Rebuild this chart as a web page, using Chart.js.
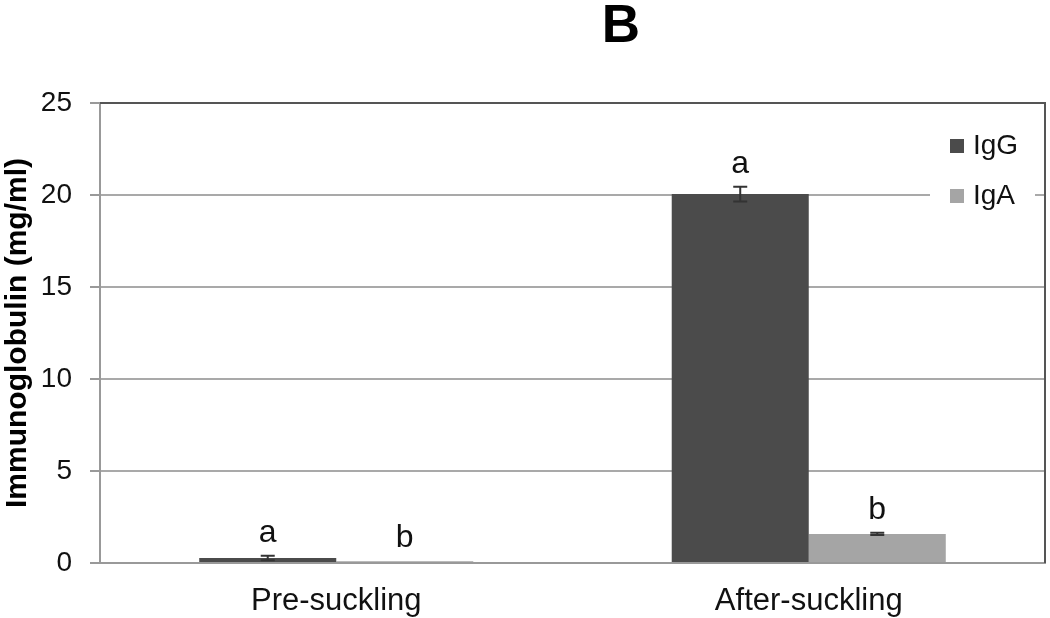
<!DOCTYPE html>
<html>
<head>
<meta charset="utf-8">
<script src="https://cdn.jsdelivr.net/npm/chart.js@4.4.0/dist/chart.umd.min.js"></script>
<style>
  html, body { margin: 0; padding: 0; background: #fff; }
  #wrap { width: 1050px; height: 618px; }
</style>
</head>
<body>
<div id="wrap"><canvas id="ig_chart" width="1050" height="618"></canvas></div>
<script>
// data
const categories = ['Pre-suckling', 'After-suckling'];
const series_names = ['IgG', 'IgA'];
const igg_values = [0.27, 20.05];
const iga_values = [0.1, 1.58];
const igg_errors = [0.12, 0.4];
const iga_errors = [0.0, 0.06];
const igg_letters = ['a', 'a'];
const iga_letters = ['b', 'b'];
const y_ticks = [0, 5, 10, 15, 20, 25];
const panel_title = 'B';

const FONT = "'Liberation Sans', Arial, sans-serif";

// error bars + significance letters
const error_plugin = {
    id: 'error_plugin',
    afterDatasetsDraw(chart) {
        const ctx = chart.ctx;
        const y = chart.scales.y;
        chart.data.datasets.forEach((ds, i) => {
            const meta = chart.getDatasetMeta(i);
            meta.data.forEach((bar, j) => {
                const v = ds.data[j];
                const e = ds.errors[j];
                const top = y.getPixelForValue(v + e);
                const bot = y.getPixelForValue(v - e);
                ctx.save();
                if (e > 0) {
                    ctx.strokeStyle = '#333';
                    ctx.lineWidth = 2;
                    ctx.beginPath();
                    ctx.moveTo(bar.x, top); ctx.lineTo(bar.x, bot);
                    ctx.moveTo(bar.x - 7, top); ctx.lineTo(bar.x + 7, top);
                    ctx.moveTo(bar.x - 7, bot); ctx.lineTo(bar.x + 7, bot);
                    ctx.stroke();
                }
                ctx.fillStyle = '#111';
                ctx.font = '32px ' + FONT;
                ctx.textAlign = 'center';
                ctx.textBaseline = 'alphabetic';
                ctx.fillText(ds.letters[j], bar.x, top - 14);
                ctx.restore();
            });
        });
    }
};

// plot border (dark top/right), legend box, panel letter
const frame_plugin = {
    id: 'frame_plugin',
    afterDraw(chart) {
        const ctx = chart.ctx;
        const a = chart.chartArea;
        ctx.save();
        ctx.strokeStyle = '#555';
        ctx.lineWidth = 2;
        ctx.beginPath();
        ctx.moveTo(a.left, a.top); ctx.lineTo(a.right, a.top); ctx.lineTo(a.right, a.bottom);
        ctx.stroke();

        // legend
        ctx.fillStyle = '#fff';
        ctx.fillRect(930, 122, 105, 96);
        ctx.font = '28px ' + FONT;
        ctx.textAlign = 'left';
        ctx.textBaseline = 'middle';
        chart.data.datasets.forEach((ds, i) => {
            const yy = 146 + i * 50;
            ctx.fillStyle = ds.backgroundColor;
            ctx.fillRect(950, yy - 7, 14, 14);
            ctx.fillStyle = '#111';
            ctx.fillText(ds.label, 973, yy);
        });

        // panel letter
        ctx.fillStyle = '#000';
        ctx.font = 'bold 53px ' + FONT;
        ctx.textAlign = 'center';
        ctx.textBaseline = 'alphabetic';
        ctx.fillText(panel_title, 621, 42);
        ctx.restore();
    }
};

const ctx = document.getElementById('ig_chart');

const chart_data = {
    labels: categories,
    datasets: [{
        label: series_names[0],
        data: igg_values,
        errors: igg_errors,
        letters: igg_letters,
        backgroundColor: '#4b4b4b',
        borderWidth: 0
    }, {
        label: series_names[1],
        data: iga_values,
        errors: iga_errors,
        letters: iga_letters,
        backgroundColor: '#a5a5a5',
        borderWidth: 0
    }]
};

const config = {
    type: 'bar',
    data: chart_data,
    options: {
        responsive: false,
        animation: false,
        categoryPercentage: 0.58,
        barPercentage: 1.0,
        layout: { padding: { top: 103, left: 0, right: 5, bottom: 0 } },
        plugins: {
            legend: { display: false },
            tooltip: { enabled: false },
            title: { display: false }
        },
        scales: {
            x: {
                afterFit: function(scale) { scale.height = 55; },
                grid: { display: false, drawTicks: false },
                border: { display: true, color: '#999', width: 2 },
                ticks: {
                    color: '#111',
                    padding: 20,
                    font: { family: FONT, size: 31 }
                }
            },
            y: {
                min: 0,
                max: 25,
                afterFit: function(scale) { scale.width = 100; },
                afterBuildTicks: function(scale) {
                    scale.ticks = y_ticks.map(v => ({ value: v }));
                },
                grid: {
                    color: '#a9a9a9',
                    lineWidth: 2,
                    tickLength: 10,
                    tickColor: '#999'
                },
                border: { display: true, color: '#999', width: 2 },
                ticks: {
                    color: '#111',
                    padding: 18,
                    font: { family: FONT, size: 28 }
                },
                title: {
                    display: true,
                    text: 'Immunoglobulin (mg/ml)',
                    color: '#000',
                    padding: 0,
                    font: { family: FONT, size: 30, weight: 'bold' }
                }
            }
        }
    },
    plugins: [error_plugin, frame_plugin]
};

const ig_chart = new Chart(ctx, config);
</script>
</body>
</html>
